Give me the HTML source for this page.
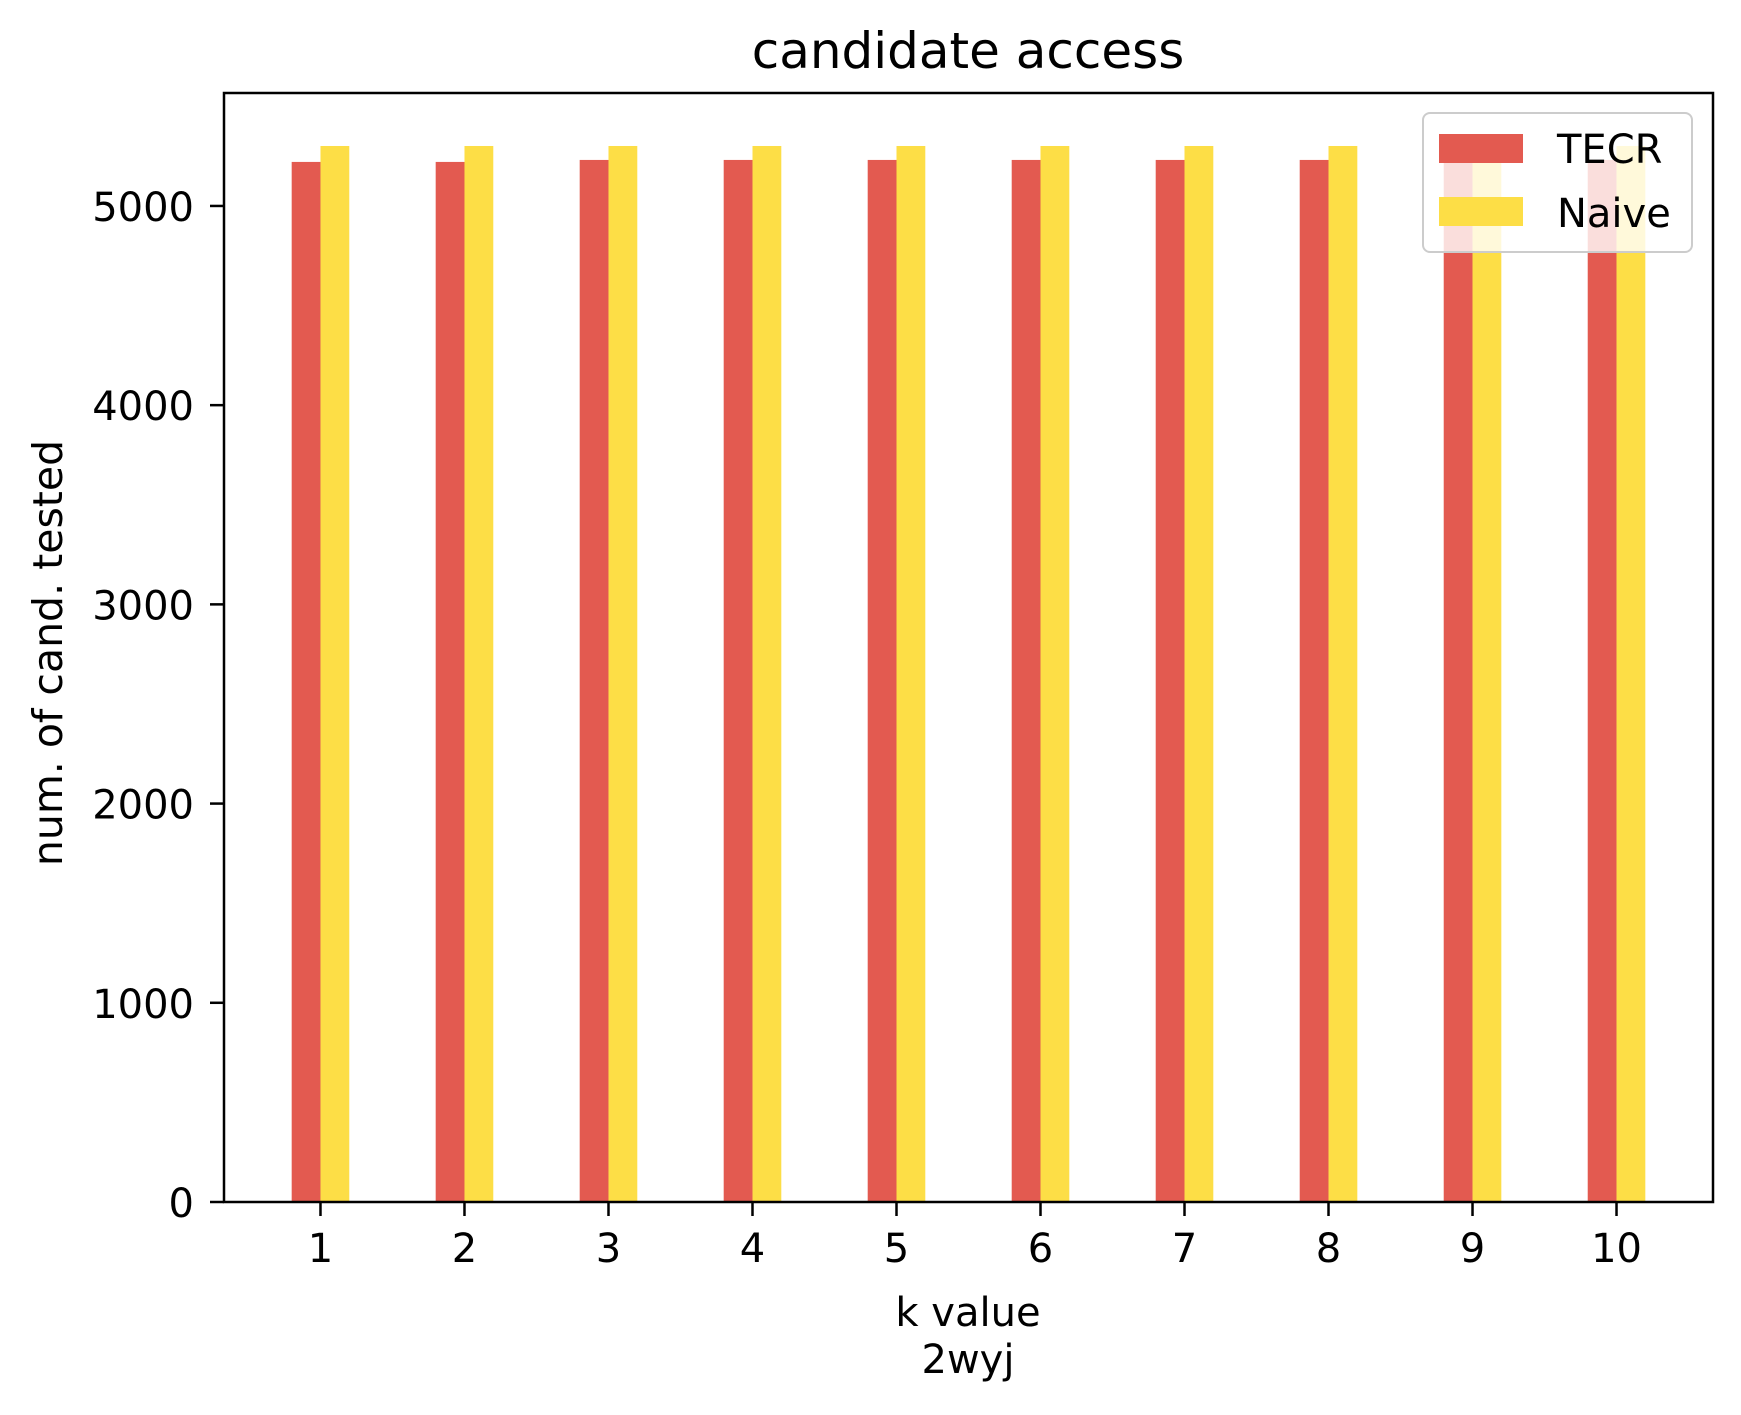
<!DOCTYPE html>
<html><head><meta charset="utf-8"><style>
html,body{margin:0;padding:0;background:#fff;}
svg text{font-family:"DejaVu Sans","Liberation Sans",sans-serif;fill:#000;}
</style></head>
<body>
<svg id="chart" width="1741" height="1410" viewBox="0 0 1741 1410" xmlns="http://www.w3.org/2000/svg">
<rect width="1741" height="1410" fill="#fff"/>
<text x="968" y="68" font-size="50" text-anchor="middle">candidate access</text>
<g id="bars"></g>
<g id="axes"></g>
<text x="968" y="1326" font-size="40" text-anchor="middle">k value</text>
<text x="968" y="1373" font-size="40" text-anchor="middle">2wyj</text>
<text x="0" y="0" font-size="41" text-anchor="middle" transform="translate(62,653) rotate(-90)">num. of cand. tested</text>
<g>
<rect x="1423" y="113" width="269" height="139" rx="7" fill="#fff" fill-opacity="0.8" stroke="#cccccc" stroke-width="2"/>
<rect x="1439" y="134" width="84" height="29" fill="#e35a50"/>
<text x="1557" y="163" font-size="40">TECR</text>
<rect x="1439" y="197" width="84" height="29" fill="#fdde46"/>
<text x="1557" y="227" font-size="40">Naive</text>
</g>
</svg>
<script>
const categories = [1,2,3,4,5,6,7,8,9,10];
const tecrValues = [5221,5221,5231,5231,5231,5231,5231,5231,5231,5231];
const naiveValues = [5301,5301,5301,5301,5301,5301,5301,5301,5301,5301];
const yTicks = [0,1000,2000,3000,4000,5000];

const NS = "http://www.w3.org/2000/svg";
const L = 224, R = 1713, T = 93, B = 1202;
const xMin = 0.33, xMax = 10.67, yMax = 5567;
const xs = v => L + (v - xMin) / (xMax - xMin) * (R - L);
const ys = v => B - v / yMax * (B - T);
const barW = 0.2;

function mk(tag, attrs, parent) {
  const e = document.createElementNS(NS, tag);
  for (const k in attrs) e.setAttribute(k, attrs[k]);
  parent.appendChild(e);
  return e;
}
const bars = document.getElementById('bars');
const axes = document.getElementById('axes');

categories.forEach((c, i) => {
  const x0 = xs(c - barW), x1 = xs(c), x2 = xs(c + barW);
  const r = mk('rect', {x: x0, y: ys(tecrValues[i]), width: x1 - x0, height: B - ys(tecrValues[i]), fill: '#e35a50'}, bars);
  
  
  const n = mk('rect', {x: x1, y: ys(naiveValues[i]), width: x2 - x1, height: B - ys(naiveValues[i]), fill: '#fdde46'}, bars);
  
  
  const t = mk('line', {x1: xs(c), x2: xs(c), y1: B, y2: B + 14, stroke: '#000', 'stroke-width': 2.5}, axes);
  
  
  const lb = mk('text', {x: xs(c), y: B + 60, 'font-size': 40, 'text-anchor': 'middle'}, axes);
  
  
  lb.textContent = c;
});

yTicks.forEach(v => {
  const t = mk('line', {x1: L - 14, x2: L, y1: ys(v), y2: ys(v), stroke: '#000', 'stroke-width': 2.5}, axes);
  
  
  const lb = mk('text', {x: L - 30, y: ys(v) + 15, 'font-size': 40, 'text-anchor': 'end'}, axes);
  
  
  lb.textContent = v;
});

const frame = mk('rect', {x: L, y: T, width: R - L, height: B - T, fill: 'none', stroke: '#000', 'stroke-width': 2.5}, axes);


</script>
</body></html>
